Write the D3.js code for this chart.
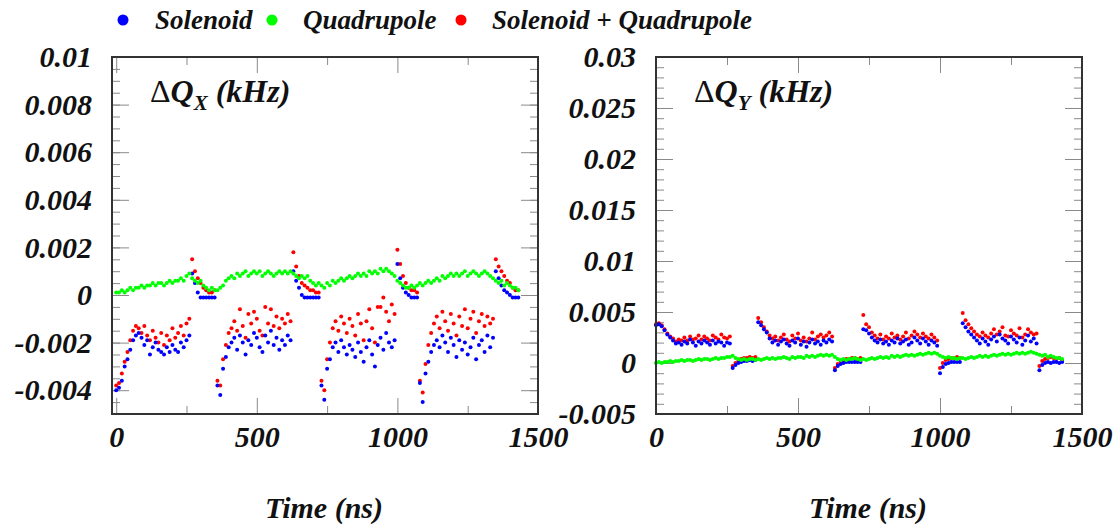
<!DOCTYPE html>
<html>
<head>
<meta charset="utf-8">
<script src="https://cdn.jsdelivr.net/npm/d3@7"></script>
<style>
body{margin:0;background:#fff;}
svg text{font-family:"Liberation Serif","Times New Roman",serif;font-weight:bold;font-style:italic;fill:#111;}
</style>
</head>
<body>
<div id="chart-area"></div>
<script>
// bunch times (ns)
var times=[0,10,20,30,40,50,60,70,80,90,100,110,120,130,140,150,160,170,180,190,200,210,220,230,240,250,260,
270,280,290,300,310,320,330,340,350,
360,370,380,390,400,410,420,430,440,450,460,470,480,490,500,510,520,530,540,550,560,570,580,590,600,610,620,
630,640,650,660,670,680,690,700,710,720,
730,740,750,760,770,780,790,800,810,820,830,840,850,860,870,880,890,900,910,920,930,940,950,960,970,980,990,
1000,1010,1020,1030,1040,1050,1060,1070,
1080,1090,1100,1110,1120,1130,1140,1150,1160,1170,1180,1190,1200,1210,1220,1230,1240,1250,1260,1270,1280,1290,1300,1310,1320,1330,1340,
1350,1360,1370,1380,1390,1400,1410,1420,1430];

// tune shifts, in units of 1e-4 kHz
var unit=1e-4;

var solenoidX=[-40,-39,-36,-30,-27,-23,-19,-17,-16,-18,-21,-19,-25,-22,-20,-23,-24,-25,-22,-24,-21,-23,-24,-20,-22,-19,-17,
9,5,1,-1,-1,-1,-1,-1,-1,
-38,-42,-31,-26,-22,-20,-18,-23,-17,-20,-25,-19,-21,-16,-18,-22,-24,-17,-20,-15,-21,-18,-23,-19,-21,-17,-19,
10,6,3,0,-1,-1,-1,-1,-1,-1,
-38,-44,-31,-27,-22,-20,-24,-19,-22,-25,-21,-23,-26,-20,-24,-28,-22,-19,-25,-30,-21,-18,-23,-16,-20,-22,-19,
13,7,3,1,0,-1,-1,-1,
-37,-45,-33,-28,-24,-21,-19,-22,-17,-20,-24,-18,-21,-26,-19,-23,-20,-25,-22,-18,-27,-21,-19,-24,-17,-22,-18,
10,7,4,2,1,0,-1,-1,-1];

var quadX=[1,1,2,1,2,3,2,3,3,4,3,4,4,5,4,5,5,4,5,6,5,6,6,7,6,8,9,
7,6,5,6,4,3,2,3,2,
2,3,4,6,7,8,7,9,8,9,10,8,9,10,9,10,8,9,10,9,8,9,10,9,10,9,10,
9,8,7,8,7,8,6,5,4,5,
4,3,5,4,6,5,6,7,6,7,8,7,8,9,8,9,8,10,9,10,9,11,10,11,10,9,8,
6,5,4,3,3,4,3,4,
5,4,5,6,5,6,7,6,8,7,8,9,8,9,8,9,10,8,9,10,9,8,9,10,9,8,7,
6,5,6,4,5,4,3,3,2];

var bothX=[-38,-37,-33,-28,-24,-19,-15,-13,-14,-16,-13,-17,-19,-15,-18,-20,-16,-21,-17,-19,-14,-18,-16,-13,-17,-12,-10,
15,10,7,5,3,2,1,1,2,
-36,-38,-27,-21,-16,-14,-11,-15,-6,-13,-18,-8,-12,-7,-10,-15,-17,-5,-12,-6,-13,-9,-14,-10,-12,-8,-11,
18,12,8,5,4,3,2,2,1,1,
-36,-40,-27,-20,-14,-11,-15,-9,-12,-16,-10,-13,-17,-8,-12,-19,-11,-6,-14,-20,-5,-5,-1,-7,-11,-4,-8,
19,13,8,5,3,2,2,1,
-36,-41,-29,-21,-16,-12,-9,-14,-7,-11,-15,-8,-12,-17,-9,-13,-6,-14,-10,-7,-16,-11,-8,-13,-9,-12,-10,
15,12,10,8,6,5,3,2,2];

var solenoidY=[37,38,36,32,28,25,22,19,20,18,21,19,23,20,17,21,19,22,20,18,22,19,21,20,17,20,19,
-5,-2,0,1,2,2,3,2,3,
40,37,33,30,24,20,22,18,21,23,19,17,22,20,24,18,21,16,20,23,19,21,18,22,20,23,21,
-7,-3,-1,0,1,1,1,1,1,1,
33,32,29,25,22,20,23,19,21,18,22,20,24,19,21,23,18,20,25,22,19,24,21,18,22,20,17,
-10,-4,-1,0,1,1,1,1,
39,35,31,28,25,22,19,24,21,18,23,26,21,28,24,22,19,26,23,20,25,18,22,27,21,24,19,
-7,-2,0,1,0,1,1,0,1];

var quadY=[0,1,0,1,1,2,1,2,2,3,2,3,3,2,3,4,3,4,4,3,4,5,4,5,5,6,6,
7,5,4,3,4,3,4,4,3,
4,3,4,5,4,5,4,5,5,6,5,4,6,5,6,6,5,7,6,7,6,7,8,7,8,7,8,
6,4,3,4,3,4,4,5,4,3,
4,3,4,5,4,5,6,5,6,5,7,6,7,6,7,8,7,8,7,8,9,8,9,10,9,10,9,
7,6,5,6,5,5,4,5,
5,4,5,6,5,6,7,6,7,6,7,8,7,8,9,8,9,8,9,10,9,10,9,10,11,10,9,
8,7,8,6,7,6,5,5,4];

var bothY=[38,39,37,33,29,26,24,21,23,22,25,22,26,23,24,27,23,26,24,22,27,25,23,28,25,24,26,
-3,0,2,4,5,5,6,5,6,
44,40,35,31,27,24,26,22,25,28,23,21,27,24,29,22,25,21,24,30,23,26,28,25,27,30,26,
-5,-1,2,3,4,4,5,5,4,5,
47,38,35,30,27,24,28,23,26,24,29,25,27,23,26,30,24,27,31,28,25,29,26,24,28,25,22,
-5,0,3,4,5,5,6,5,
49,42,38,34,31,28,26,30,27,25,29,33,28,31,35,27,26,32,29,27,34,25,28,33,30,28,29,
-3,2,4,5,6,5,4,5,3];

var seriesNames=["Solenoid","Quadrupole","Solenoid + Quadrupole"];
var seriesColors=["#0000ff","#00ff00","#ff0000"];

var xMajor=[0,500,1000,1500];
var xMinor=[250,750,1250];
var yMajorX=[-0.004,-0.002,0,0.002,0.004,0.006,0.008,0.01];
var yMajorY=[-0.005,0,0.005,0.01,0.015,0.02,0.025,0.03];

var svg=d3.select("#chart-area").append("svg")
	.attr("width",1120)
	.attr("height",528);

// legend
var legend=svg.append("g");
var legendX=[123,272,461];
var legendTextX=[155,303,492];
seriesNames.forEach((name,i)=>{
	legend.append("circle")
		.attr("cx",legendX[i])
		.attr("cy",20)
		.attr("r",5.5)
		.attr("fill",seriesColors[i]);
	legend.append("text")
		.attr("x",legendTextX[i])
		.attr("y",29)
		.attr("font-size","27px")
		.text(name);
});

function fmt(d){
	if(d===0) return "0";
	return String(+d.toFixed(4));
}

function panel(opts){
	var x=d3.scaleLinear().domain(opts.xDomain).range([opts.left,opts.right]);
	var y=d3.scaleLinear().domain(opts.yDomain).range([414,57]);
	var g=svg.append("g");

	// minor ticks
	g.append("g").attr("transform","translate(0,414)")
		.call(d3.axisBottom(x).tickValues(xMinor).tickSize(-8).tickFormat(""));
	g.append("g").attr("transform","translate(0,57)")
		.call(d3.axisTop(x).tickValues(xMinor).tickSize(-8).tickFormat(""));
	g.append("g").attr("transform","translate("+opts.left+",0)")
		.call(d3.axisLeft(y).tickValues(opts.yMinor).tickSize(-8).tickFormat(""));
	g.append("g").attr("transform","translate("+opts.right+",0)")
		.call(d3.axisRight(y).tickValues(opts.yMinor).tickSize(-8).tickFormat(""));

	// major ticks
	g.append("g").attr("class","x axis").attr("transform","translate(0,414)")
		.call(d3.axisBottom(x).tickValues(xMajor).tickSize(-16).tickPadding(12).tickFormat(d3.format("d")));
	g.append("g").attr("transform","translate(0,57)")
		.call(d3.axisTop(x).tickValues(xMajor).tickSize(-16).tickFormat(""));
	g.append("g").attr("class","y axis").attr("transform","translate("+opts.left+",0)")
		.call(d3.axisLeft(y).tickValues(opts.yMajor).tickSize(-17).tickPadding(20).tickFormat(fmt));
	g.append("g").attr("transform","translate("+opts.right+",0)")
		.call(d3.axisRight(y).tickValues(opts.yMajor).tickSize(-17).tickFormat(""));

	g.selectAll(".domain").remove();
	g.selectAll(".tick line").attr("stroke","#8a8a8a");
	g.selectAll(".tick text")
		.attr("font-family",null)
		.attr("font-size",null)
		.style("font-size","30px")
		.attr("fill","#111");

	// points: red first, then blue, then green
	var order=[2,0,1];
	order.forEach((k)=>{
		g.append("g").selectAll("circle")
			.data(opts.series[k])
			.enter().append("circle")
			.attr("cx",(d,i)=>{return x(times[i]);})
			.attr("cy",(d)=>{return y(d*unit);})
			.attr("r",2)
			.attr("fill",seriesColors[k]);
	});

	// frame
	g.append("rect")
		.attr("x",opts.left)
		.attr("y",57)
		.attr("width",opts.right-opts.left)
		.attr("height",414-57)
		.attr("fill","none")
		.attr("stroke","#333")
		.attr("stroke-width",2);

	// title
	var t=g.append("text")
		.attr("x",opts.left+38)
		.attr("y",102)
		.attr("font-size","32px");
	t.append("tspan").style("font-style","normal").style("font-weight","normal").text("\u0394");
	t.append("tspan").text("Q");
	t.append("tspan").attr("font-size","21px").attr("dy",8).text(opts.sub);
	t.append("tspan").attr("dy",-8).text(" (kHz)");

	// x label
	g.append("text")
		.attr("x",(opts.left+opts.right)/2-1)
		.attr("y",518)
		.attr("font-size","30px")
		.attr("text-anchor","middle")
		.text("Time (ns)");
}

panel({left:112,right:538,xDomain:[-15,1500],yDomain:[-0.005,0.01],
	yMajor:yMajorX,yMinor:d3.range(-0.005,0.01001,0.0005).map((v)=>+v.toFixed(4)),
	series:[solenoidX,quadX,bothX],sub:"X"});
panel({left:656,right:1082,xDomain:[0,1500],yDomain:[-0.005,0.03],
	yMajor:yMajorY,yMinor:d3.range(-0.005,0.03001,0.001).map((v)=>+v.toFixed(4)),
	series:[solenoidY,quadY,bothY],sub:"Y"});
</script>
</body>
</html>
